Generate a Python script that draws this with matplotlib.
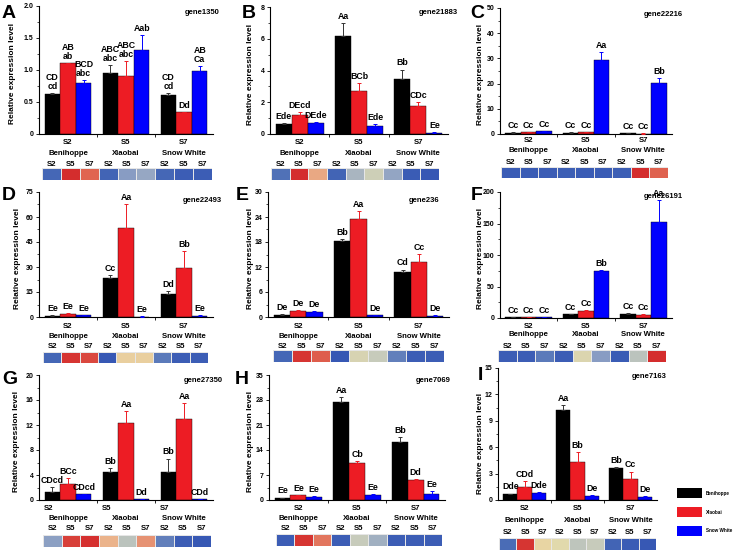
import matplotlib
matplotlib.use('Agg')
import matplotlib.pyplot as plt
import matplotlib.transforms as mtrans
from matplotlib.colors import LinearSegmentedColormap
from matplotlib.patches import Rectangle
from matplotlib.ticker import AutoMinorLocator, FixedLocator
import numpy as np

plt.rcParams['font.family'] = ['Liberation Sans', 'DejaVu Sans']
plt.rcParams['font.weight'] = 'bold'

# ---------------- data ----------------
stages = ['S2', 'S5', 'S7']
cultivars = ['Benihoppe', 'Xiaobai', 'Snow White']
heat_labels = ['S2', 'S5', 'S7'] * 3
bar_colors = ['#000000', '#ed1c24', '#0000ff']
ylabel_text = 'Relative expression level'

# rows = cultivars (Benihoppe, Xiaobai, Snow White), cols = stages (S2, S5, S7)
gene1350_mean = [[0.62, 0.95, 0.61], [1.11, 0.90, 0.34], [0.79, 1.31, 0.99]]
gene1350_err = [[0.02, 0.13, 0.03], [0.0, 0.24, 0.0], [0.06, 0.24, 0.07]]
gene1350_sig = [['CD\ncd', 'ABC\nabc', 'CD\ncd'], ['AB\nab', 'ABC\nabc', 'Dd'], ['BCD\nabc', 'Aab', 'AB\nCa']]
gene1350_heat = [0.12, 1.0, 0.86, 0.10, 0.33, 0.37, 0.12, 0.06, 0.06]
gene1350_yticks = [0, 0.5, 1.0, 1.5, 2.0]
gene1350_yticklabels = ['0', '0.5', '1.0', '1.5', '2.0']

gene21883_mean = [[0.62, 6.18, 3.44], [1.17, 2.73, 1.77], [0.72, 0.52, 0.08]]
gene21883_err = [[0.07, 0.82, 0.62], [0.2, 0.5, 0.23], [0.04, 0.08, 0.03]]
gene21883_sig = [['Ede', 'Aa', 'Bb'], ['DEcd', 'BCb', 'CDc'], ['DEde', 'Ede', 'Ee']]
gene21883_heat = [0.17, 1.0, 0.74, 0.10, 0.42, 0.52, 0.36, 0.05, 0.02]
gene21883_yticks = [0, 2, 4, 6, 8]
gene21883_yticklabels = ['0', '2', '4', '6', '8']

gene22216_mean = [[0.5, 0.5, 0.4], [0.6, 0.6, 0.15], [1.0, 29.5, 20.2]]
gene22216_err = [[0.1, 0.1, 0.1], [0.1, 0.1, 0.05], [0.1, 2.9, 1.9]]
gene22216_sig = [['Cc', 'Cc', 'Cc'], ['Cc', 'Cc', 'Cc'], ['Cc', 'Aa', 'Bb']]
gene22216_heat = [0.05, 0.05, 0.06, 0.07, 0.05, 0.05, 0.07, 1.0, 0.87]
gene22216_yticks = [0, 10, 20, 30, 40, 50]
gene22216_yticklabels = ['0', '10', '20', '30', '40', '50']

gene22493_mean = [[0.8, 23.6, 14.0], [2.0, 53.4, 29.6], [1.0, 0.3, 0.8]]
gene22493_err = [[0.2, 1.4, 1.4], [0.3, 14.2, 10.0], [0.2, 0.1, 0.3]]
gene22493_sig = [['Ee', 'Cc', 'Dd'], ['Ee', 'Aa', 'Bb'], ['Ee', 'Ee', 'Ee']]
gene22493_heat = [0.12, 0.98, 0.93, 0.03, 0.64, 0.64, 0.20, 0.06, 0.06]
gene22493_yticks = [0, 15, 30, 45, 60, 75]
gene22493_yticklabels = ['0', '15', '30', '45', '60', '75']

gene236_mean = [[0.6, 18.3, 10.7], [1.4, 23.4, 13.1], [1.2, 0.4, 0.3]]
gene236_err = [[0.1, 0.5, 0.7], [0.2, 2.0, 2.0], [0.2, 0.1, 0.1]]
gene236_sig = [['De', 'Bb', 'Cd'], ['De', 'Aa', 'Cc'], ['De', 'De', 'De']]
gene236_heat = [0.12, 0.98, 0.88, 0.03, 0.55, 0.50, 0.22, 0.06, 0.06]
gene236_yticks = [0, 6, 12, 18, 24, 30]
gene236_yticklabels = ['0', '6', '12', '18', '24', '30']

gene26191_mean = [[1.5, 5.8, 6.8], [1.0, 11.6, 5.3], [1.2, 75.3, 152.6]]
gene26191_err = [[0.3, 0.8, 0.7], [0.2, 1.0, 0.7], [0.2, 1.0, 35.0]]
gene26191_sig = [['Cc', 'Cc', 'Cc'], ['Cc', 'Cc', 'Cc'], ['Cc', 'Bb', 'Aa']]
gene26191_heat = [0.06, 0.06, 0.20, 0.06, 0.56, 0.33, 0.05, 0.47, 1.0]
gene26191_yticks = [0, 50, 100, 150, 200]
gene26191_yticklabels = ['0', '50', '100', '150', '200']

gene27350_mean = [[1.23, 4.53, 4.53], [2.5, 12.3, 13.0], [0.9, 0.1, 0.15]]
gene27350_err = [[0.8, 0.55, 2.1], [1.0, 2.0, 2.5], [0.1, 0.05, 0.05]]
gene27350_sig = [['CDcd', 'Bb', 'Bb'], ['BCc', 'Aa', 'Aa'], ['CDcd', 'Dd', 'CDd']]
gene27350_heat = [0.34, 0.95, 0.99, 0.72, 0.47, 0.78, 0.22, 0.06, 0.03]
gene27350_yticks = [0, 4, 8, 12, 16, 20]
gene27350_yticklabels = ['0', '4', '8', '12', '16', '20']

gene7069_mean = [[0.6, 27.4, 16.3], [1.4, 10.45, 5.6], [0.95, 1.5, 1.6]]
gene7069_err = [[0.1, 1.4, 1.4], [0.1, 0.5, 0.2], [0.1, 0.1, 0.9]]
gene7069_sig = [['Ee', 'Aa', 'Bb'], ['Ee', 'Cb', 'Dd'], ['Ee', 'Ee', 'Ee']]
gene7069_heat = [0.06, 0.98, 0.83, 0.06, 0.50, 0.40, 0.06, 0.06, 0.06]
gene7069_yticks = [0, 7, 14, 21, 28, 35]
gene7069_yticklabels = ['0', '7', '14', '21', '28', '35']

gene7163_mean = [[0.68, 10.27, 3.69], [1.44, 4.33, 2.43], [0.76, 0.46, 0.3]]
gene7163_err = [[0.05, 0.5, 0.1], [0.7, 1.07, 0.8], [0.1, 0.1, 0.1]]
gene7163_sig = [['Dde', 'Aa', 'Bb'], ['CDd', 'Bb', 'Cc'], ['Dde', 'De', 'De']]
gene7163_heat = [0.15, 0.98, 0.62, 0.58, 0.48, 0.50, 0.10, 0.05, 0.03]
gene7163_yticks = [0, 3, 6, 9, 12, 15]
gene7163_yticklabels = ['0', '3', '6', '9', '12', '15']

# ---------------- layout (pixels) ----------------
W, H = 741, 555
fig = plt.figure(figsize=(W / 100, H / 100), dpi=100)

heat_cmap = LinearSegmentedColormap.from_list('heat', [
    (0.0, '#3354b4'), (0.15, '#4a6cb6'), (0.35, '#8fa2c4'), (0.5, '#c6cbbb'),
    (0.6, '#e8dca8'), (0.72, '#ebb48c'), (0.86, '#e06652'), (1.0, '#d42d2d')])

panels = [
    dict(letter='A', gene='gene1350', mean=gene1350_mean, err=gene1350_err, sig=gene1350_sig,
         heat=gene1350_heat, yt=gene1350_yticks, ytl=gene1350_yticklabels,
         ax=(39, 6, 213, 134), hm=(42, 168, 212, 180), rows=(142, 153, 164),
         title=(220, 13), lpos=(9, 14), ylx=13),
    dict(letter='B', gene='gene21883', mean=gene21883_mean, err=gene21883_err, sig=gene21883_sig,
         heat=gene21883_heat, yt=gene21883_yticks, ytl=gene21883_yticklabels,
         ax=(270, 7, 448, 134), hm=(271, 168, 439, 180), rows=(142, 153, 164),
         title=(458, 13), lpos=(249, 14), ylx=250),
    dict(letter='C', gene='gene22216', mean=gene22216_mean, err=gene22216_err, sig=gene22216_sig,
         heat=gene22216_heat, yt=gene22216_yticks, ytl=gene22216_yticklabels,
         ax=(500, 8, 672, 134), hm=(501, 167, 668, 178), rows=(140, 151, 162),
         title=(683, 15), lpos=(477, 13), ylx=480),
    dict(letter='D', gene='gene22493', mean=gene22493_mean, err=gene22493_err, sig=gene22493_sig,
         heat=gene22493_heat, yt=gene22493_yticks, ytl=gene22493_yticklabels,
         ax=(39, 192, 213, 317), hm=(43, 352, 208, 363), rows=(326, 336, 346),
         title=(222, 200), lpos=(9, 195), ylx=18),
    dict(letter='E', gene='gene236', mean=gene236_mean, err=gene236_err, sig=gene236_sig,
         heat=gene236_heat, yt=gene236_yticks, ytl=gene236_yticklabels,
         ax=(268, 192, 449, 317), hm=(273, 350, 444, 362), rows=(326, 336, 346),
         title=(439, 200), lpos=(242, 195), ylx=250),
    dict(letter='F', gene='gene26191', mean=gene26191_mean, err=gene26191_err, sig=gene26191_sig,
         heat=gene26191_heat, yt=gene26191_yticks, ytl=gene26191_yticklabels,
         ax=(500, 192, 672, 318), hm=(498, 350, 666, 362), rows=(326, 335, 346),
         title=(683, 197), lpos=(477, 195), ylx=480),
    dict(letter='G', gene='gene27350', mean=gene27350_mean, err=gene27350_err, sig=gene27350_sig,
         heat=gene27350_heat, yt=gene27350_yticks, ytl=gene27350_yticklabels,
         ax=(39, 375, 213, 500), hm=(43, 535, 211, 547), rows=(509, 519, 529),
         title=(223, 380), lpos=(10, 380), ylx=17, left_stage=True),
    dict(letter='H', gene='gene7069', mean=gene7069_mean, err=gene7069_err, sig=gene7069_sig,
         heat=gene7069_heat, yt=gene7069_yticks, ytl=gene7069_yticklabels,
         ax=(269, 375, 445, 500), hm=(276, 534, 442, 546), rows=(508, 519, 529),
         title=(451, 380), lpos=(242, 380), ylx=251),
    dict(letter='I', gene='gene7163', mean=gene7163_mean, err=gene7163_err, sig=gene7163_sig,
         heat=gene7163_heat, yt=gene7163_yticks, ytl=gene7163_yticklabels,
         ax=(498, 368, 657, 500), hm=(499, 538, 656, 550), rows=(508, 521, 532),
         title=(667, 377), lpos=(480, 375), ylx=481, ylabel_y=0.43),
]


def fy(y):
    return 1 - y / H


bw = 0.27
for p in panels:
    l, t, r, b = p['ax']
    ax = fig.add_axes([l / W, 1 - b / H, (r - l) / W, (b - t) / H])
    ax.set_xlim(0, 3)
    ax.set_ylim(p['yt'][0], p['yt'][-1])
    for k in range(3):
        xs = np.arange(3) + 0.5 + (k - 1) * bw
        m = np.array(p['mean'][k])
        e = np.array(p['err'][k])
        ax.bar(xs, m, width=bw, color=bar_colors[k], edgecolor='black', linewidth=0.3, zorder=2)
        ax.errorbar(xs, m, yerr=[np.zeros(3), e], fmt='none', ecolor=bar_colors[k] if k else '#333333',
                    elinewidth=0.7, capsize=1.5, capthick=0.7, zorder=3)
        for j in range(3):
            ax.annotate(p['sig'][k][j], (xs[j], m[j] + e[j]), xytext=(0, 1.5),
                        textcoords='offset points', ha='center', va='bottom',
                        fontsize=6.3, fontweight='bold', linespacing=1.0, zorder=4)
    for s in ['top', 'right']:
        ax.spines[s].set_visible(False)
    for s in ['left', 'bottom']:
        ax.spines[s].set_linewidth(0.8)
    ax.yaxis.set_major_locator(FixedLocator(p['yt']))
    ax.set_yticklabels(p['ytl'])
    ax.yaxis.set_minor_locator(AutoMinorLocator(2))
    ax.set_xticks([1, 2])
    ax.set_xticklabels([])
    ax.tick_params(axis='both', which='major', direction='out', length=2.5, width=0.6,
                   labelsize=5, pad=1.5)
    ax.tick_params(axis='y', which='minor', direction='out', length=1.5, width=0.5)
    ax.set_ylabel(ylabel_text, fontsize=6, fontweight='bold', va='center')
    ax.yaxis.set_label_coords((p['ylx'] - l) / (r - l), p.get('ylabel_y', 0.47))

    tr = mtrans.blended_transform_factory(ax.transData, fig.transFigure)
    for g in range(3):
        if p.get('left_stage'):
            ax.text(g + 0.08, fy(p['rows'][0]), stages[g], transform=tr, ha='left',
                    va='center', fontsize=5.6, fontweight='bold')
        else:
            ax.text(g + 0.5, fy(p['rows'][0]), stages[g], transform=tr, ha='center',
                    va='center', fontsize=5.6, fontweight='bold')
        ax.text(g + 0.5, fy(p['rows'][1]), cultivars[g], transform=tr, ha='center',
                va='center', fontsize=5.6, fontweight='bold')

    # heatmap strip
    hl, ht, hr, hb = p['hm']
    hax = fig.add_axes([hl / W, 1 - hb / H, (hr - hl) / W, (hb - ht) / H])
    hax.pcolormesh(np.arange(10), [0, 1], np.array([p['heat']]), cmap=heat_cmap,
                   vmin=0, vmax=1, edgecolors='#e6e6e6', linewidth=0.6)
    hax.set_xlim(0, 9)
    hax.set_ylim(0, 1)
    hax.axis('off')
    htr = mtrans.blended_transform_factory(hax.transData, fig.transFigure)
    for i, lab in enumerate(heat_labels):
        hax.text(i + 0.5, fy(p['rows'][2]), lab, transform=htr, ha='center', va='center',
                 fontsize=5.6, fontweight='bold')

    fig.text(p['title'][0] / W, fy(p['title'][1]), p['gene'], ha='right', va='center',
             fontsize=5.5, fontweight='bold')
    fig.text(p['lpos'][0] / W, fy(p['lpos'][1]), p['letter'], ha='center', va='center',
             fontsize=14, fontweight='bold')

# legend (bottom right)
for k, name in enumerate(cultivars):
    y0 = 488 + k * 19
    fig.patches.append(Rectangle((677 / W, fy(y0 + 10)), 25 / W, 10 / H, transform=fig.transFigure,
                                 facecolor=bar_colors[k], edgecolor='none'))
    fig.text(706 / W, fy(y0 + 5), name, ha='left', va='center', fontsize=3.3, fontweight='bold')

fig.savefig('out.png', dpi=100)
